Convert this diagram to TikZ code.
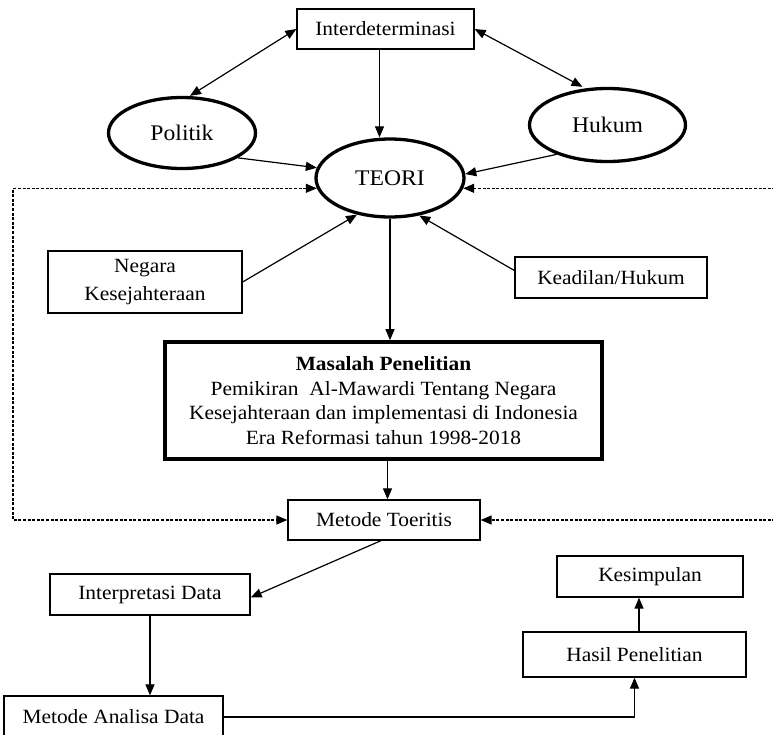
\documentclass[tikz,border=0pt]{standalone}
\usepackage{fontspec}
\setmainfont[FakeStretch=1.06]{Liberation Serif}
\usetikzlibrary{arrows.meta,shapes.geometric,calc}
\begin{document}
\begin{tikzpicture}[x=1pt,y=-1pt,
  >={Triangle[length=11pt,width=9pt]},
  box/.style={draw, line width=1.3pt, rectangle, inner sep=0pt, align=center,
    font=\fontsize{20.2}{24.5}\selectfont},
  oval/.style={draw, line width=3.3pt, ellipse, inner sep=0pt,
    font=\fontsize{22.3}{26}\selectfont},
  arr/.style={line width=1.2pt, ->},
  arrboth/.style={line width=1.2pt, <->},
  darr/.style={line width=1.2pt, dash pattern=on 3pt off 1.6pt, ->},
  darrboth/.style={line width=1.2pt, dash pattern=on 3pt off 1.6pt, <->}]
\useasboundingbox (0,0) rectangle (773,734);
\clip (0,0) rectangle (773,734);

\node[box, minimum width=177pt, minimum height=40pt] (inter) at (385.5,29) {Interdeterminasi};
\node[oval, minimum width=147pt, minimum height=71pt] (politik) at (182,133) {Politik};
\node[oval, minimum width=156pt, minimum height=73pt] (hukum) at (607.5,125) {Hukum};
\node[oval, minimum width=148pt, minimum height=78pt] (teori) at (390,178) {TEORI};
\node[box, minimum width=194pt, minimum height=62pt] (negara) at (145,282) {Negara\\[4pt]Kesejahteraan};
\node[box, minimum width=192pt, minimum height=41pt] (keadilan) at (611,277.5) {Keadilan/Hukum};
\node[box, line width=3.6pt, minimum width=437pt, minimum height=117pt] (masalah) at (383.5,400.5)
  {\textbf{Masalah Penelitian}\\Pemikiran\ \ Al-Mawardi Tentang Negara\\Kesejahteraan dan implementasi di Indonesia\\Era Reformasi tahun 1998-2018};
\node[box, minimum width=192pt, minimum height=40pt] (metode) at (384,520) {Metode Toeritis};
\node[box, minimum width=200pt, minimum height=41pt] (interp) at (150,594.5) {Interpretasi Data};
\node[box, minimum width=186pt, minimum height=41pt] (kesimpulan) at (650,576.5) {Kesimpulan};
\node[box, minimum width=223pt, minimum height=45pt] (hasil) at (634.5,654.5) {Hasil Penelitian};
\node[box, minimum width=219pt, minimum height=42pt] (analisa) at (113.5,717) {Metode Analisa Data};

\coordinate (L) at (13,0);
\coordinate (R) at (780,0);

\draw[arrboth] (inter.west) -- ([xshift=8pt]politik.north);
\draw[arrboth] (inter.east) -- ([xshift=-25pt]hukum.north);
\draw[arr] ([xshift=-6pt]inter.south) -- ([xshift=-6pt]inter.south |- teori.north);
\draw[arr] (politik.-24) -- (teori.172);
\draw[arr] (hukum.210) -- (teori.3);
\draw[arr] (negara.east) -- (teori.228);
\draw[arr] ([yshift=7pt]keadilan.west) -- (teori.-52);
\draw[arr] (teori.south) -- (teori.south |- masalah.north);
\draw[arr] ([xshift=4pt]masalah.south) -- ([xshift=4pt]masalah.south |- metode.north);
\draw[arr] ([xshift=-3pt]metode.south) -- ([yshift=-3pt]interp.east);
\draw[arr] (interp.south) -- (interp.south |- analisa.north);
\draw[arr] (analisa.east) -| (hasil.south);
\draw[arr] ([xshift=4.5pt]hasil.north) -- ([xshift=4.5pt]hasil.north |- kesimpulan.south);

\draw[darrboth] (teori.188) -- (teori.188 -| L) -- (L |- metode.west) -- (metode.west);
\draw[darr] (teori.-8 -| R) -- (teori.-8);
\draw[darr] (metode.east -| R) -- (metode.east);
\end{tikzpicture}
\end{document}
